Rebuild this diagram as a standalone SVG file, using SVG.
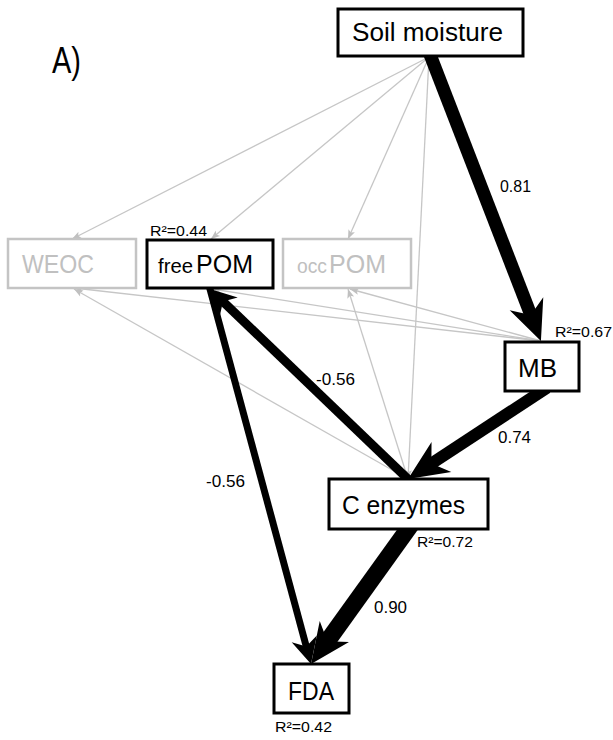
<svg xmlns="http://www.w3.org/2000/svg" width="613" height="740" viewBox="0 0 613 740">
<style>
text{font-family:"Liberation Sans",Arial,sans-serif;}
.box{fill:#fff;stroke:#000;stroke-width:3;}
.gbox{fill:#fff;stroke:#c4c4c4;stroke-width:2.5;}
.lbl{font-size:26px;fill:#000;}
.glbl{font-size:26px;fill:#c0c0c0;}
.sm{font-size:20px;}
.r2{font-size:15px;fill:#000;}
.w{font-size:16px;fill:#000;}
.g{fill:none;stroke:#c6c6c6;stroke-width:1.3;marker-end:url(#ahG);}
.b{fill:none;stroke:#000;stroke-linecap:butt;}
</style>
<defs>
<marker id="ahB" markerUnits="userSpaceOnUse" markerWidth="44" markerHeight="40" refX="20" refY="0" orient="auto" overflow="visible">
<path d="M0,-18 L40,0 L0,18 L12,0 Z" fill="#000"/>
</marker>
<marker id="ahM" markerUnits="userSpaceOnUse" markerWidth="30" markerHeight="30" refX="16" refY="0" orient="auto" overflow="visible">
<path d="M0,-13 L26,0 L0,13 L8,0 Z" fill="#000"/>
</marker>
<marker id="ahG" markerUnits="userSpaceOnUse" markerWidth="10" markerHeight="10" refX="9" refY="0" orient="auto" overflow="visible">
<path d="M0,-3.5 L9,0 L0,3.5 L2,0 Z" fill="#c0c0c0"/>
</marker>
</defs>
<text x="52" y="73" font-size="36" textLength="29" lengthAdjust="spacingAndGlyphs">A)</text>
<g id="edges">
<path class="g" d="M429,57 L72,239"/>
<path class="g" d="M429,57 L211,239"/>
<path class="g" d="M429,57 L348,239"/>
<path class="g" d="M429,57 L408,479"/>
<path class="g" d="M541,341 L74,288"/>
<path class="g" d="M541,341 L212,289"/>
<path class="g" d="M541,341 L350,289"/>
<path class="g" d="M408,479 L74,289"/>
<path class="g" d="M408,479 L348,289"/>
<path class="b" stroke-width="13" marker-end="url(#ahB)" d="M428.8,51.4 L533.7,322.4"/>
<path class="b" stroke-width="12" marker-end="url(#ahB)" d="M547,387.7 L424.7,468"/>
<path class="b" stroke-width="9" marker-end="url(#ahM)" d="M412.3,483.2 L217.2,295.9"/>
<path class="b" stroke-width="7" marker-end="url(#ahM)" d="M208.4,283.2 L308.4,654.3"/>
<path class="b" stroke-width="17" marker-end="url(#ahB)" d="M411.5,524.1 L322.7,647.8"/>
<text class="w" x="500" y="192" textLength="31" lengthAdjust="spacingAndGlyphs">0.81</text>
<text class="w" x="498" y="443" textLength="33" lengthAdjust="spacingAndGlyphs">0.74</text>
<text class="w" x="316" y="385" textLength="39" lengthAdjust="spacingAndGlyphs">-0.56</text>
<text class="w" x="206" y="487" textLength="39" lengthAdjust="spacingAndGlyphs">-0.56</text>
<text class="w" x="374" y="613" textLength="33" lengthAdjust="spacingAndGlyphs">0.90</text>
</g>
<g id="soil-moisture">
<rect class="box" x="338" y="9" width="185" height="47"/>
<text class="lbl" x="352" y="41" textLength="151" lengthAdjust="spacingAndGlyphs">Soil moisture</text>
</g>
<g id="weoc">
<rect class="gbox" x="8" y="239" width="128" height="49"/>
<text class="glbl" x="22" y="273" textLength="72" lengthAdjust="spacingAndGlyphs">WEOC</text>
</g>
<g id="freepom">
<rect class="box" x="147" y="240" width="126" height="48"/>
<text class="lbl sm" x="158" y="273" textLength="35" lengthAdjust="spacingAndGlyphs">free</text>
<text class="lbl" x="196" y="273" textLength="57" lengthAdjust="spacingAndGlyphs">POM</text>
<text class="r2" x="150" y="236" textLength="57" lengthAdjust="spacingAndGlyphs">R²=0.44</text>
</g>
<g id="occpom">
<rect class="gbox" x="283" y="239" width="128" height="49"/>
<text class="glbl sm" x="297" y="273" textLength="30" lengthAdjust="spacingAndGlyphs">occ</text>
<text class="glbl" x="329" y="273" textLength="57" lengthAdjust="spacingAndGlyphs">POM</text>
</g>
<g id="mb">
<rect class="box" x="505" y="342" width="74" height="49"/>
<text class="lbl" x="518" y="377" textLength="39" lengthAdjust="spacingAndGlyphs">MB</text>
<text class="r2" x="555" y="337" textLength="57" lengthAdjust="spacingAndGlyphs">R²=0.67</text>
</g>
<g id="c-enzymes">
<rect class="box" x="329" y="479" width="159" height="50"/>
<text class="lbl" x="342" y="514" textLength="123" lengthAdjust="spacingAndGlyphs">C enzymes</text>
<text class="r2" x="417" y="547" textLength="56" lengthAdjust="spacingAndGlyphs">R²=0.72</text>
</g>
<g id="fda">
<rect class="box" x="274" y="664" width="75" height="49"/>
<text class="lbl" x="288" y="700" textLength="46" lengthAdjust="spacingAndGlyphs">FDA</text>
<text class="r2" x="275" y="732" textLength="57" lengthAdjust="spacingAndGlyphs">R²=0.42</text>
</g>
</svg>
